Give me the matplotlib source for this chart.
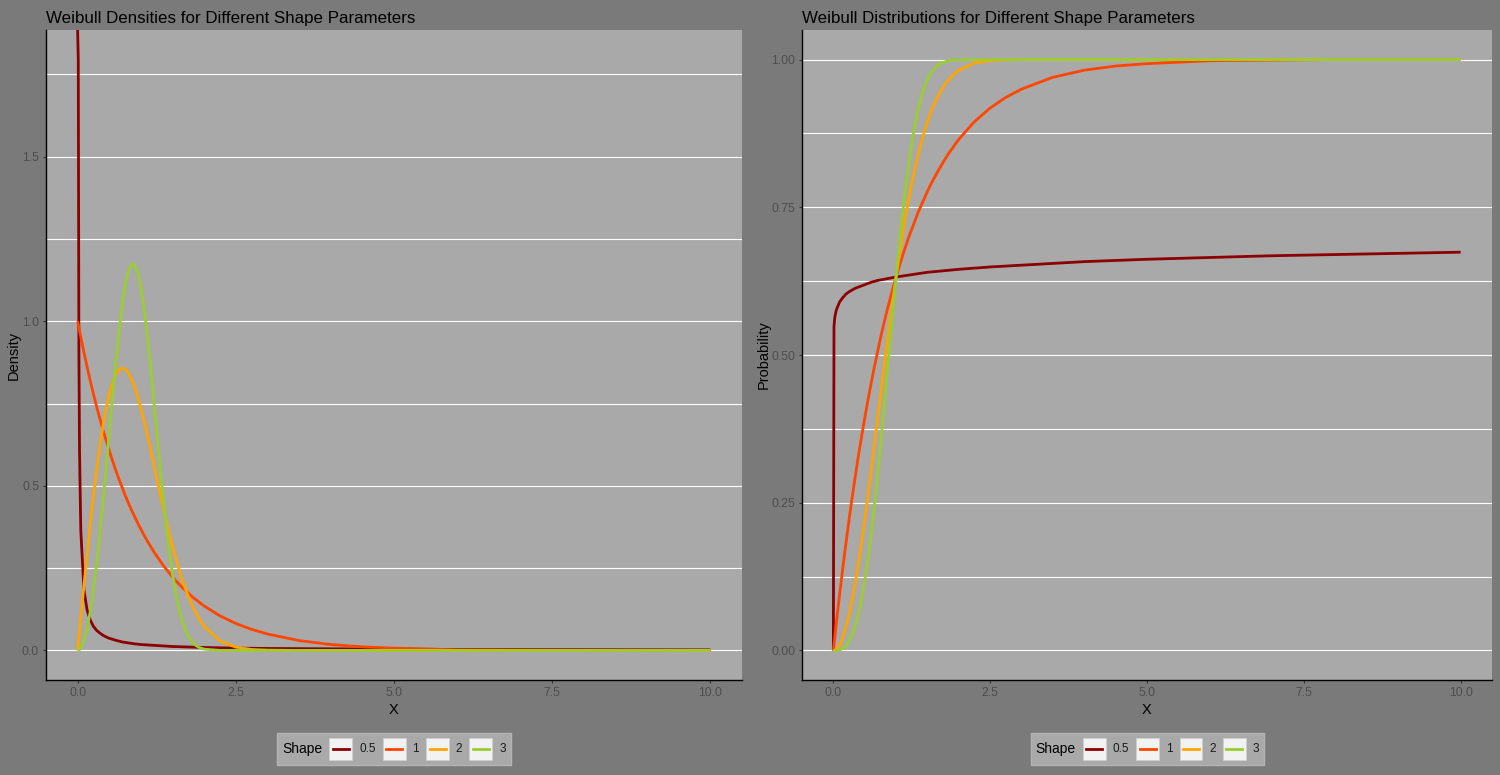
import numpy as np
import matplotlib
matplotlib.use("Agg")
import matplotlib.pyplot as plt
from matplotlib.offsetbox import AnchoredOffsetbox, HPacker, TextArea, DrawingArea
from matplotlib.patches import Rectangle
from matplotlib.lines import Line2D
from matplotlib.ticker import MultipleLocator, FormatStrFormatter

plt.rcParams["font.family"] = ["Liberation Sans", "DejaVu Sans"]

# values
shape_labels = ["0.5", "1", "2", "3"]
shape_colors = ["#8B0000", "#FF4500", "#FFA500", "#9ACD32"]

# x grid for the "0.5" curve (the first point shoots off the top of the panel)
x_low = [0, 0.01, 0.02, 0.03, 0.05, 0.1, 0.15, 0.2, 0.25, 0.3, 0.35, 0.4, 0.45,
         0.5, 0.6, 0.7, 0.8, 0.9, 1.0, 1.25, 1.5, 2.0, 2.5, 3.0, 4.0, 5.0,
         6.0, 7.0, 8.0, 9.0, 10.0]
dens_05 = [np.inf, 1.795, 0.903, 0.604, 0.364, 0.183, 0.122, 0.092, 0.073, 0.061,
           0.053, 0.046, 0.041, 0.037, 0.031, 0.026, 0.023, 0.020, 0.018, 0.015,
           0.012, 0.009, 0.007, 0.006, 0.005, 0.004, 0.003, 0.0026, 0.0023,
           0.0020, 0.0018]
cdf_05 = [0.0, 0.548, 0.561, 0.568, 0.577, 0.590, 0.597, 0.603, 0.607, 0.610,
          0.613, 0.615, 0.617, 0.619, 0.623, 0.626, 0.628, 0.630, 0.632, 0.636,
          0.640, 0.645, 0.649, 0.652, 0.658, 0.662, 0.665, 0.668, 0.670, 0.672,
          0.674]

# x grid for shapes 1, 2, 3
x_grid = [0, 0.01, 0.02, 0.03,
          0.05, 0.1, 0.15, 0.2, 0.25, 0.3, 0.35, 0.4, 0.45, 0.5,
          0.55, 0.6, 0.65, 0.7, 0.75, 0.8, 0.85, 0.9, 0.95, 1.0,
          1.05, 1.1, 1.15, 1.2, 1.25, 1.3, 1.35, 1.4, 1.45, 1.5,
          1.55, 1.6, 1.65, 1.7, 1.75, 1.8, 1.85, 1.9, 1.95, 2.0,
          2.25, 2.5, 2.75, 3.0, 3.5, 4.0, 4.5, 5.0, 6.0, 7.0, 8.0, 9.0, 10.0]

dens_1 = [1.0, 0.990, 0.980, 0.970,
          0.951, 0.905, 0.861, 0.819, 0.779, 0.741, 0.705, 0.670, 0.638, 0.607,
          0.577, 0.549, 0.522, 0.497, 0.472, 0.449, 0.427, 0.407, 0.387, 0.368,
          0.350, 0.333, 0.317, 0.301, 0.287, 0.273, 0.259, 0.247, 0.235, 0.223,
          0.212, 0.202, 0.192, 0.183, 0.174, 0.165, 0.157, 0.150, 0.142, 0.135,
          0.105, 0.082, 0.064, 0.050, 0.030, 0.018, 0.011, 0.007, 0.002, 0.001,
          0.0003, 0.0001, 0.0]
dens_2 = [0.0, 0.020, 0.040, 0.060,
          0.100, 0.198, 0.293, 0.384, 0.470, 0.548, 0.619, 0.682, 0.735, 0.779,
          0.813, 0.837, 0.852, 0.858, 0.855, 0.844, 0.825, 0.801, 0.771, 0.736,
          0.697, 0.656, 0.613, 0.569, 0.524, 0.480, 0.436, 0.394, 0.354, 0.316,
          0.281, 0.247, 0.217, 0.189, 0.164, 0.141, 0.121, 0.103, 0.087, 0.073,
          0.029, 0.010, 0.003, 0.001, 0.0, 0.0, 0.0, 0.0, 0.0, 0.0,
          0.0, 0.0, 0.0]
dens_3 = [0.0, 0.0003, 0.0012, 0.0027,
          0.0075, 0.030, 0.067, 0.119, 0.185, 0.263, 0.352, 0.450, 0.555, 0.662,
          0.768, 0.870, 0.963, 1.043, 1.107, 1.151, 1.173, 1.172, 1.149, 1.104,
          1.039, 0.959, 0.867, 0.767, 0.665, 0.563, 0.467, 0.378, 0.299, 0.231,
          0.174, 0.128, 0.092, 0.064, 0.043, 0.029, 0.018, 0.011, 0.007, 0.004,
          0.0002, 0.0, 0.0, 0.0, 0.0, 0.0, 0.0, 0.0, 0.0, 0.0,
          0.0, 0.0, 0.0]

cdf_1 = [0.0, 0.010, 0.020, 0.030,
         0.049, 0.095, 0.139, 0.181, 0.221, 0.259, 0.295, 0.330, 0.362, 0.393,
         0.423, 0.451, 0.478, 0.503, 0.528, 0.551, 0.573, 0.593, 0.613, 0.632,
         0.650, 0.667, 0.683, 0.699, 0.713, 0.727, 0.741, 0.753, 0.765, 0.777,
         0.788, 0.798, 0.808, 0.817, 0.826, 0.835, 0.843, 0.850, 0.858, 0.865,
         0.895, 0.918, 0.936, 0.950, 0.970, 0.982, 0.989, 0.993, 0.998, 0.999,
         1.0, 1.0, 1.0]
cdf_2 = [0.0, 0.0, 0.0, 0.001,
         0.002, 0.010, 0.022, 0.039, 0.061, 0.086, 0.115, 0.148, 0.183, 0.221,
         0.261, 0.302, 0.345, 0.387, 0.430, 0.473, 0.515, 0.555, 0.594, 0.632,
         0.668, 0.702, 0.734, 0.763, 0.790, 0.816, 0.838, 0.859, 0.878, 0.895,
         0.910, 0.923, 0.934, 0.944, 0.953, 0.961, 0.967, 0.973, 0.978, 0.982,
         0.994, 0.998, 0.9995, 1.0, 1.0, 1.0, 1.0, 1.0, 1.0, 1.0,
         1.0, 1.0, 1.0]
cdf_3 = [0.0, 0.0, 0.0, 0.0,
         0.0001, 0.001, 0.003, 0.008, 0.016, 0.027, 0.042, 0.062, 0.087, 0.118,
         0.153, 0.194, 0.240, 0.290, 0.344, 0.401, 0.459, 0.518, 0.576, 0.632,
         0.686, 0.736, 0.782, 0.822, 0.858, 0.889, 0.915, 0.936, 0.953, 0.966,
         0.976, 0.983, 0.989, 0.993, 0.995, 0.997, 0.998, 0.999, 0.9994, 0.9997,
         1.0, 1.0, 1.0, 1.0, 1.0, 1.0, 1.0, 1.0, 1.0, 1.0,
         1.0, 1.0, 1.0]

OUTER = "#7A7A7A"
PANEL = "#A9A9A9"
TICK_TXT = "#4D4D4D"


def style_panel(ax, title, ylabel, ylim, step, fmt):
    ax.set_facecolor(PANEL)
    ax.set_xlim(-0.5, 10.5)
    ax.set_ylim(*ylim)
    ax.xaxis.set_major_locator(MultipleLocator(2.5))
    ax.xaxis.set_major_formatter(FormatStrFormatter("%.1f"))
    ax.yaxis.set_major_locator(MultipleLocator(step))
    ax.yaxis.set_minor_locator(MultipleLocator(step / 2))
    ax.yaxis.set_major_formatter(FormatStrFormatter(fmt))
    ax.grid(axis="y", which="both", color="white", lw=0.8)
    ax.set_axisbelow(True)
    for side in ("top", "right"):
        ax.spines[side].set_visible(False)
    for side in ("left", "bottom"):
        ax.spines[side].set_color("black")
        ax.spines[side].set_linewidth(1.0)
    ax.tick_params(which="major", length=2.5, width=0.8, color="#333333",
                   labelsize=8.8, labelcolor=TICK_TXT, pad=2.5)
    ax.tick_params(which="minor", left=False)
    ax.set_title(title, loc="left", fontsize=12.2, color="black", pad=5)
    ax.set_xlabel("X", fontsize=10.5, color="black", labelpad=3)
    ax.set_ylabel(ylabel, fontsize=10.5, color="black", labelpad=0.5)


def add_legend(fig, cx, cy):
    items = [TextArea("Shape", textprops=dict(fontsize=10, color="black"))]
    for lab, col in zip(shape_labels, shape_colors):
        da = DrawingArea(16.5, 16.5, 0, 0)
        da.add_artist(Rectangle((0, 0), 16.5, 16.5, facecolor="#F2F2F2",
                                edgecolor="#D0D0D0", lw=0.5))
        da.add_artist(Line2D([2.5, 14], [8.25, 8.25], color=col, lw=2))
        items.append(da)
        items.append(TextArea(lab, textprops=dict(fontsize=8.5, color="#1A1A1A")))
    box = HPacker(children=items, align="center", pad=0, sep=5)
    anchored = AnchoredOffsetbox(loc="center", child=box, pad=0.35, borderpad=0,
                                 frameon=True, bbox_to_anchor=(cx, cy),
                                 bbox_transform=fig.transFigure)
    anchored.patch.set_facecolor(PANEL)
    anchored.patch.set_edgecolor("#B4B4B4")
    anchored.patch.set_boxstyle("square", pad=0)
    fig.add_artist(anchored)


fig = plt.figure(figsize=(15, 7.75), dpi=100, facecolor=OUTER)
ax1 = fig.add_axes([46 / 1500, 95 / 775, 696 / 1500, 650 / 775])
ax2 = fig.add_axes([802 / 1500, 95 / 775, 690 / 1500, 650 / 775])

# density panel: ggplot-like 5% expansion on the finite range, Inf drawn at the top edge
finite_max = max(max(v for v in dens_05 if np.isfinite(v)), max(dens_1), max(dens_2), max(dens_3))
y_lo, y_hi = -0.05 * finite_max, 1.05 * finite_max
dens_05_drawn = np.where(np.isinf(dens_05), y_hi, dens_05)

ax1.plot(x_low, dens_05_drawn, color=shape_colors[0], lw=2, solid_capstyle="butt")
ax1.plot(x_grid, dens_1, color=shape_colors[1], lw=2, solid_capstyle="butt")
ax1.plot(x_grid, dens_2, color=shape_colors[2], lw=2, solid_capstyle="butt")
ax1.plot(x_grid, dens_3, color=shape_colors[3], lw=2, solid_capstyle="butt")
style_panel(ax1, "Weibull Densities for Different Shape Parameters", "Density",
            (y_lo, y_hi), 0.5, "%.1f")

ax2.plot(x_low, cdf_05, color=shape_colors[0], lw=2, solid_capstyle="butt")
ax2.plot(x_grid, cdf_1, color=shape_colors[1], lw=2, solid_capstyle="butt")
ax2.plot(x_grid, cdf_2, color=shape_colors[2], lw=2, solid_capstyle="butt")
ax2.plot(x_grid, cdf_3, color=shape_colors[3], lw=2, solid_capstyle="butt")
style_panel(ax2, "Weibull Distributions for Different Shape Parameters", "Probability",
            (-0.05, 1.05), 0.25, "%.2f")

add_legend(fig, 394 / 1500, 1 - 749 / 775)
add_legend(fig, 1147.5 / 1500, 1 - 749 / 775)

fig.savefig("out.png", dpi=100, facecolor=OUTER)
plt.close(fig)
